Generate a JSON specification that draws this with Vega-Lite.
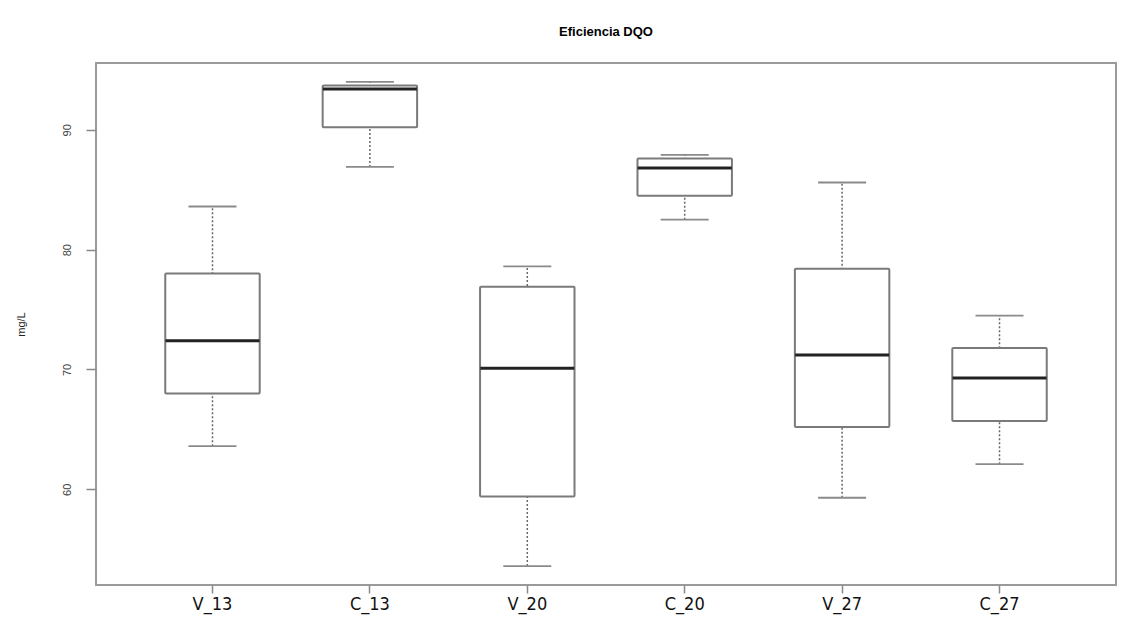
{
  "$schema": "https://vega.github.io/schema/vega-lite/v6.json",
  "autosize": {"type": "none"},
  "padding": {"left": 96, "top": 63, "right": 19, "bottom": 58},
  "width": 1020,
  "height": 522,
  "background": "white",
  "title": {"text": "Eficiencia DQO", "font": "Liberation Sans", "fontSize": 13, "fontWeight": "bold", "color": "#000", "anchor": "middle", "offset": 24},
  "data": {"values": [
    {"grupo": "V_13", "min": 63.6, "q1": 68.0, "mediana": 72.4, "q3": 78.0, "max": 83.6},
    {"grupo": "C_13", "min": 86.9, "q1": 90.2, "mediana": 93.4, "q3": 93.7, "max": 94.0},
    {"grupo": "V_20", "min": 53.6, "q1": 59.4, "mediana": 70.1, "q3": 76.9, "max": 78.6},
    {"grupo": "C_20", "min": 82.5, "q1": 84.5, "mediana": 86.8, "q3": 87.6, "max": 87.9},
    {"grupo": "V_27", "min": 59.3, "q1": 65.2, "mediana": 71.2, "q3": 78.4, "max": 85.6},
    {"grupo": "C_27", "min": 62.1, "q1": 65.7, "mediana": 69.3, "q3": 71.8, "max": 74.5}
  ]},
  "encoding": {
    "x": {
      "field": "grupo", "type": "nominal", "sort": null,
      "scale": {"paddingInner": 0, "paddingOuter": 0.24},
      "axis": {"title": null, "labelAngle": 0, "domain": false, "tickSize": 8, "tickColor": "#888", "tickWidth": 1.5, "labelPadding": 2,
               "labelFont": "Liberation Sans Narrow, DejaVu Sans Condensed, Liberation Sans", "labelFontSize": 18, "labelColor": "#111"}
    }
  },
  "layer": [
    {
      "mark": {"type": "rule", "color": "#666", "strokeWidth": 1.5, "strokeDash": [2, 2]},
      "encoding": {
        "y": {"field": "min", "type": "quantitative",
              "scale": {"domain": [52.02, 95.57], "nice": false, "zero": false},
              "axis": {"title": "mg/L", "values": [60, 70, 80, 90], "grid": false, "domain": false,
                       "tickSize": 10, "tickColor": "#888", "tickWidth": 1.5,
                       "labelAngle": 270, "labelAlign": "center", "labelBaseline": "bottom", "labelPadding": 14,
                       "labelFont": "Liberation Sans", "labelFontSize": 11, "labelColor": "#444",
                       "titleFont": "Liberation Sans", "titleFontSize": 11, "titleFontWeight": "normal", "titleColor": "#222",
                       "titleAngle": 270, "titleAlign": "center", "titleBaseline": "bottom", "titleX": -70, "titleY": 261}},
        "y2": {"field": "max"}
      }
    },
    {
      "mark": {"type": "tick", "color": "#8a8a8a", "thickness": 1.8, "size": 48, "opacity": 1},
      "encoding": {"y": {"field": "min", "type": "quantitative"}}
    },
    {
      "mark": {"type": "tick", "color": "#8a8a8a", "thickness": 1.8, "size": 48, "opacity": 1},
      "encoding": {"y": {"field": "max", "type": "quantitative"}}
    },
    {
      "mark": {"type": "bar", "fill": "white", "stroke": "#7a7a7a", "strokeWidth": 2, "width": {"band": 0.6}, "cornerRadius": 1},
      "encoding": {
        "y": {"field": "q1", "type": "quantitative"},
        "y2": {"field": "q3"}
      }
    },
    {
      "mark": {"type": "tick", "color": "#222", "thickness": 3, "size": 94, "opacity": 1},
      "encoding": {"y": {"field": "mediana", "type": "quantitative"}}
    }
  ],
  "config": {
    "view": {"stroke": "#9a9a9a", "strokeWidth": 2}
  }
}
